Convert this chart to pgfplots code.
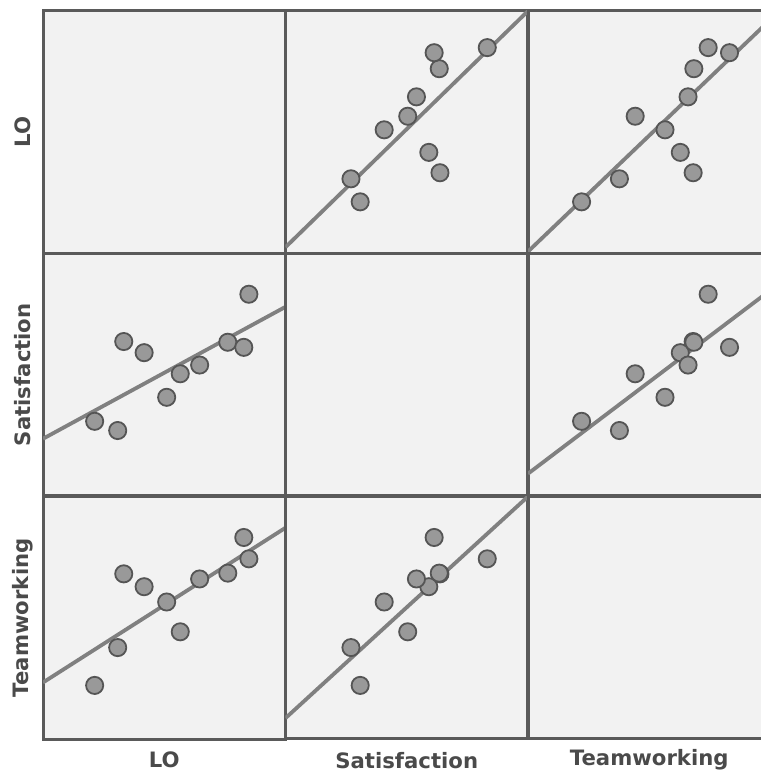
\documentclass[border=0pt]{standalone}
\usepackage{fontspec}
\setmainfont{DejaVu Sans}
\usepackage{pgfplots}
\pgfplotsset{compat=1.18}
\usepackage{pgfplotstable}

\pgfplotstableread{
LO    Sat   Team
0.213 0.308 0.221
0.308 0.270 0.377
0.333 0.637 0.681
0.417 0.591 0.628
0.510 0.407 0.565
0.566 0.504 0.442
0.646 0.540 0.660
0.762 0.634 0.684
0.828 0.613 0.831
0.849 0.832 0.743
}\data

\definecolor{bg}{HTML}{F2F2F2}
\definecolor{frame}{HTML}{5A5A5A}
\definecolor{lab}{HTML}{4A4A4A}
\definecolor{ptfill}{HTML}{999999}
\definecolor{ptdraw}{HTML}{555555}
\definecolor{fitc}{HTML}{808080}

\pgfplotsset{
  spm/.style={
    scale only axis, width=121.25pt, height=121.25pt,
    xmin=0, xmax=1, ymin=0, ymax=1,
    xtick=\empty, ytick=\empty,
    axis line style={draw=frame, line width=1.5pt},
    axis background/.style={fill=bg},
    anchor=south west,
    xlabel style={font=\bfseries\fontsize{10.6}{12}\selectfont, text=lab,
      at={(axis description cs:0.5,-0.087)}, anchor=center},
    ylabel style={font=\bfseries\fontsize{10.6}{12}\selectfont, text=lab,
      at={(axis description cs:-0.084,0.5)}, anchor=center},
  },
  pts/.style={only marks, mark=*, mark size=4.3pt,
    mark options={fill=ptfill, draw=ptdraw, line width=0.9pt}},
  fit/.style={no marks, draw=fitc, line width=1.9pt},
}

\begin{document}
\begin{tikzpicture}
\useasboundingbox (0,0) rectangle (380.5pt,386.5pt);
% Row LO
\begin{axis}[spm, at={(21.5pt,259.75pt)}, ylabel={LO}]
\end{axis}
\begin{axis}[spm, at={(142.75pt,259.75pt)}]
\addplot[pts] table[x=Sat,y=LO]{\data};
\addplot[fit] coordinates {(0,0.026) (1,1.0)};
\end{axis}
\begin{axis}[spm, at={(264pt,259.75pt)}]
\addplot[pts] table[x=Team,y=LO]{\data};
\addplot[fit] coordinates {(0,0.008) (1,0.965)};
\end{axis}
% Row Satisfaction
\begin{axis}[spm, at={(21.5pt,138.5pt)}, ylabel={Satisfaction}]
\addplot[pts] table[x=LO,y=Sat]{\data};
\addplot[fit] coordinates {(0,0.236) (1,0.78)};
\end{axis}
\begin{axis}[spm, at={(142.75pt,138.5pt)}]
\end{axis}
\begin{axis}[spm, at={(264pt,138.5pt)}]
\addplot[pts] table[x=Team,y=Sat]{\data};
\addplot[fit] coordinates {(0,0.092) (1,0.849)};
\end{axis}
% Row Teamworking
\begin{axis}[spm, at={(21.5pt,17pt)}, ylabel={Teamworking}, xlabel={LO}]
\addplot[pts] table[x=LO,y=Team]{\data};
\addplot[fit] coordinates {(0,0.233) (1,0.871)};
\end{axis}
\begin{axis}[spm, at={(142.75pt,17pt)}, xlabel={Satisfaction}]
\addplot[pts] table[x=Sat,y=Team]{\data};
\addplot[fit] coordinates {(0,0.086) (1,1.0)};
\end{axis}
\begin{axis}[spm, at={(264pt,17pt)}, xlabel={Teamworking}]
\end{axis}
\end{tikzpicture}
\end{document}
